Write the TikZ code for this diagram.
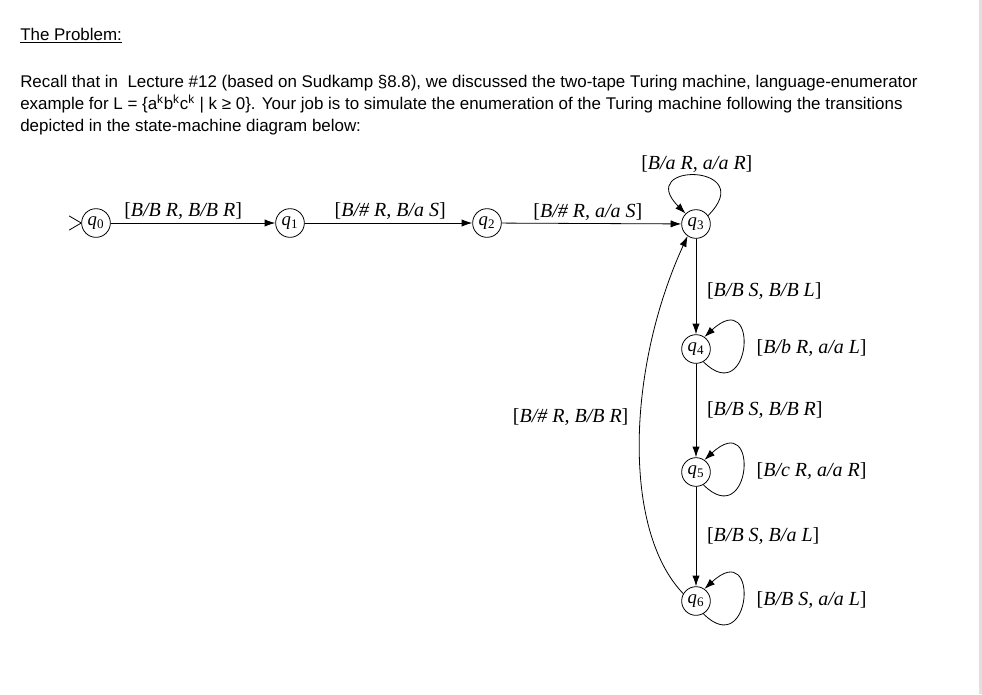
\documentclass[tikz,border=0pt]{standalone}
\usepackage{fontspec}
\setmainfont{Liberation Sans}
\newfontfamily\tmsfont{Liberation Serif}
\usetikzlibrary{arrows.meta}

\newcommand\trlab[1]{[\textit{#1}]}
\newcommand\qs[1]{\textit{q}\textsubscript{#1}}

\begin{document}
\begin{tikzpicture}[x=0.75pt, y=-0.75pt, line cap=round, line join=round,
    state/.style={draw, circle, inner sep=0pt, minimum size=21.5pt, line width=0.6pt,
      font=\tmsfont\fontsize{14}{14}\selectfont},
    lbl/.style={font=\tmsfont\fontsize{15}{17}\selectfont, inner sep=2pt},
    trans/.style={line width=0.6pt, -{Latex[length=8pt,width=5.5pt]}},
    body/.style={anchor=base west, inner sep=0pt, font=\fontsize{12.7}{15}\selectfont}]
  \useasboundingbox (0,0) rectangle (982,694);
  \fill[white] (0,0) rectangle (982,694);
  \fill[black!12] (979,0) rectangle (982,694);

  \node[body] (title) at (20,40) {\underline{The Problem:}};
  \node[body] (line1) at (20,87) {Recall that in\ \ Lecture \#12 (based on Sudkamp §8.8), we discussed the two-tape Turing machine, language-enumerator};
  \node[body] (line2) at (20,109) {example for L = \{a\textsuperscript{k}b\textsuperscript{k}c\textsuperscript{k} | k ≥ 0\}. Your job is to simulate the enumeration of the Turing machine following the transitions};
  \node[body] (line3) at (20,131) {depicted in the state-machine diagram below:};

  % states
  \node[state] (q0) at (96,223) {\qs{0}};
  \node[state] (q1) at (290,223) {\qs{1}};
  \node[state] (q2) at (487,223) {\qs{2}};
  \node[state] (q3) at (696,224) {\qs{3}};
  \node[state] (q4) at (696,349) {\qs{4}};
  \node[state] (q5) at (696,472) {\qs{5}};
  \node[state] (q6) at (696,601) {\qs{6}};
  \draw[line width=0.6pt] (q0.west) -- ++(-12,-7) (q0.west) -- ++(-12,7);

  % transitions
  \draw[trans] (q0) -- node[lbl, above, pos=0.44] (l01) {\trlab{B/B R, B/B R}} (q1);
  \draw[trans] (q1) -- node[lbl, above, pos=0.51] (l12) {\trlab{B/\# R, B/a S}} (q2);
  \draw[trans] (q2) -- node[lbl, above, pos=0.48] (l23) {\trlab{B/\# R, a/a S}} (q3);
  \draw[trans] (q3.35) .. controls +(52,-52) and +(-52,-52) .. (q3.135)
    node[lbl, above, pos=0.5] (l33) {\trlab{B/a R, a/a R}};
  \draw[trans] (q3) -- node[lbl, right=6pt, pos=0.55] (l34) {\trlab{B/B S, B/B L}} (q4);
  \draw[trans] (q4.-60) .. controls +(48,48) and +(56,-52) .. (q4.55)
    node[lbl, right=8pt, pos=0.5] (l44) {\trlab{B/b R, a/a L}};
  \draw[trans] (q4) -- node[lbl, right=6pt] (l45) {\trlab{B/B S, B/B R}} (q5);
  \draw[trans] (q5.-60) .. controls +(48,48) and +(56,-52) .. (q5.55)
    node[lbl, right=8pt, pos=0.5] (l55) {\trlab{B/c R, a/a R}};
  \draw[trans] (q5) -- node[lbl, right=6pt] (l56) {\trlab{B/B S, B/a L}} (q6);
  \draw[trans] (q6.-60) .. controls +(48,48) and +(56,-52) .. (q6.55)
    node[lbl, right=8pt, pos=0.5] (l66) {\trlab{B/B S, a/a L}};
  \draw[trans] (q6.150) .. controls (622,530) and (627,368) .. (q3.235)
    node[lbl, left=7pt, pos=0.56] (l63) {\trlab{B/\# R, B/B R}};
\end{tikzpicture}
\end{document}
